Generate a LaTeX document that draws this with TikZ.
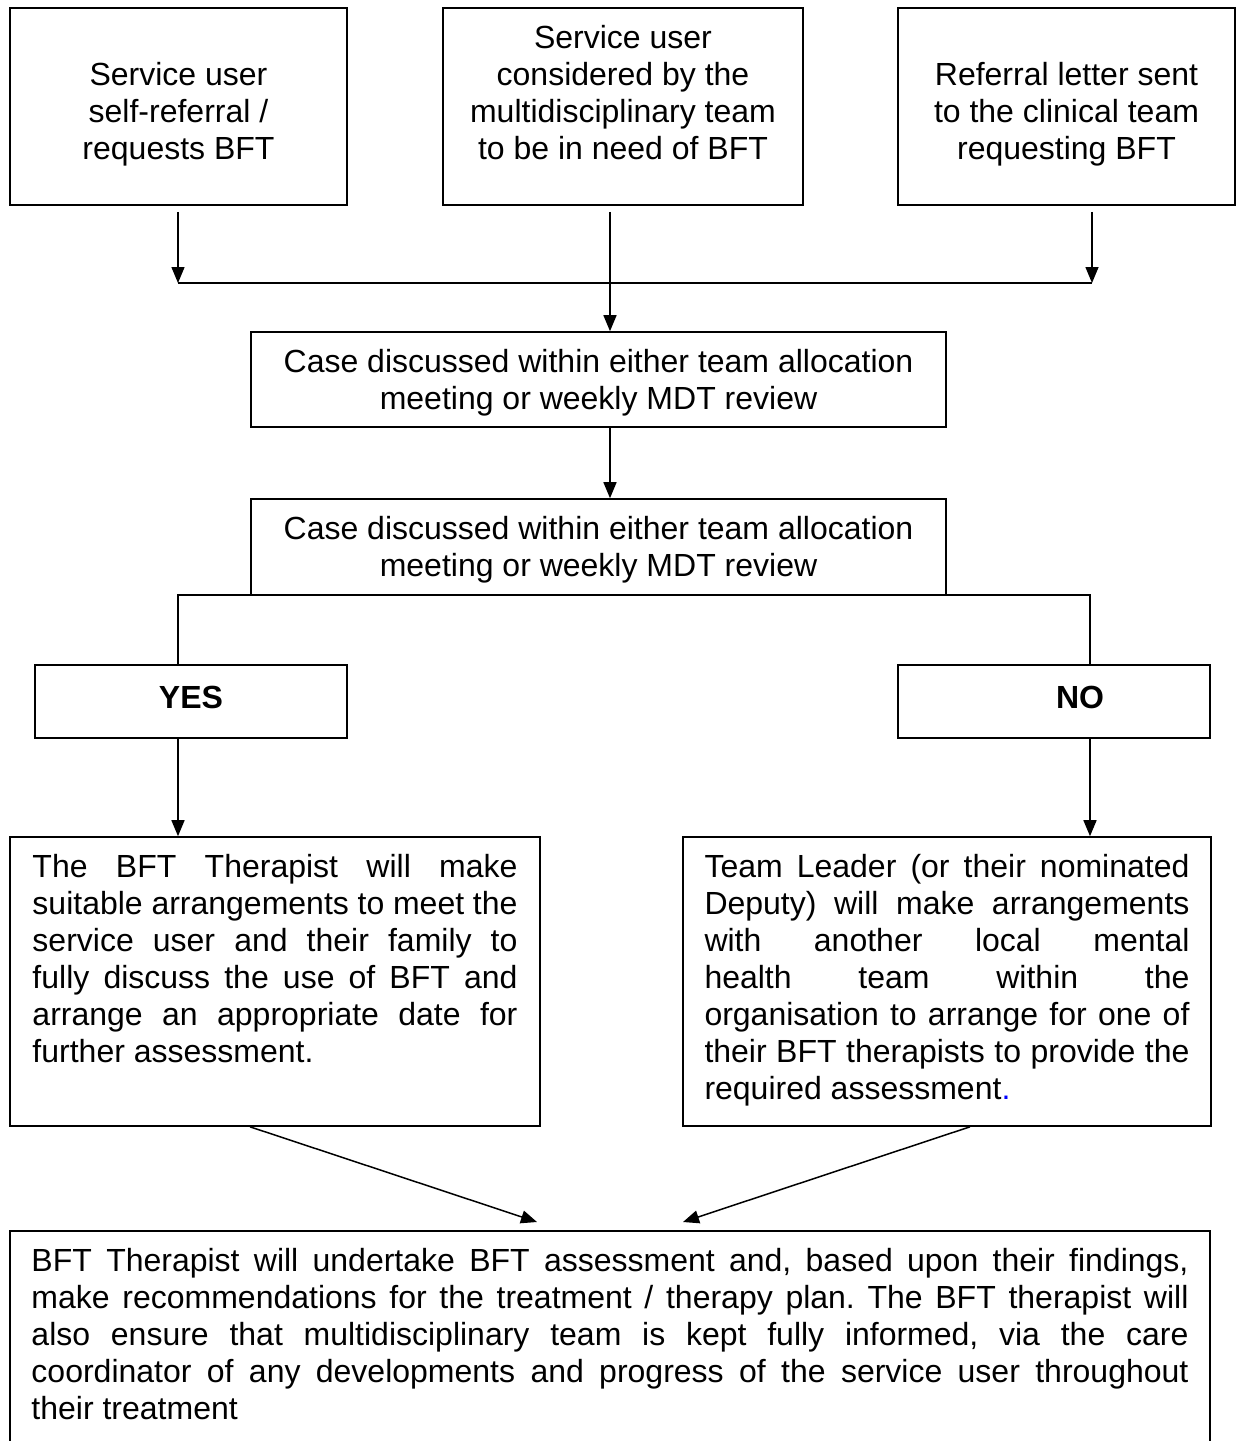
\documentclass[tikz,border=0pt]{standalone}
\usepackage{fontspec}
\setmainfont{Liberation Sans}
\usetikzlibrary{arrows.meta}
\frenchspacing
\newcommand\inbox[3]{\parbox[c][#1][t]{#2}{#3}}
\newcommand\jline[1]{\makebox[\hsize][s]{#1}}
\newcommand\firstrule{\rule{0pt}{20pt}}
\begin{document}
\begin{tikzpicture}[x=0.5pt,y=-0.5pt,
  box/.style={draw, line width=0.8pt, inner ysep=0pt, inner xsep=5pt, font=\fontsize{16pt}{18.5pt}\selectfont},
  tagbox/.style={draw, line width=0.8pt, inner sep=0pt, minimum width=156pt, minimum height=36.5pt, text height=11.5pt, text depth=5pt, font=\fontsize{16pt}{18.5pt}\selectfont\bfseries},
  arr/.style={line width=0.75pt, -{Triangle[length=8pt,width=6.5pt]}},
  ln/.style={line width=0.75pt}]
\clip (0,0) rectangle (1236,1441);
\fill[white] (0,0) rectangle (1236,1441);

% top boxes
\node[box] (b1) at (178.5,106.5) {\inbox{98.5pt}{158.5pt}{\centering\firstrule\\Service user\\self-referral /\\requests BFT}};
\node[box] (b2) at (623,106.5) {\inbox{98.5pt}{170pt}{\centering\firstrule Service user\\considered by the\\multidisciplinary team\\to be in need of BFT}};
\node[box] (b3) at (1066.5,106.5) {\inbox{98.5pt}{158.5pt}{\centering\firstrule\\Referral letter sent\\to the clinical team\\requesting BFT}};

% case boxes
\node[box] (b4) at (598.5,379.5) {\inbox{47.5pt}{337.5pt}{\centering\firstrule Case discussed within either team allocation\\meeting or weekly MDT review}};
\node[box] (b5) at (598.5,547) {\inbox{48pt}{337.5pt}{\centering\firstrule Case discussed within either team allocation\\meeting or weekly MDT review}};

% yes / no
\node[tagbox] (yes) at (191,701.5) {YES};
\node[tagbox] (no) at (1054,701.5) {\hspace*{26pt}NO};

% outcome boxes
\node[box, inner xsep=11.25pt] (yesT) at (275,981.5) {\inbox{144.5pt}{242.5pt}{%
\jline{\firstrule The BFT Therapist will make}\\
\jline{suitable arrangements to meet the}\\
\jline{service user and their family to}\\
\jline{fully discuss the use of BFT and}\\
\jline{arrange an appropriate date for}\\
further assessment.}};
\node[box, inner xsep=10.75pt] (noT) at (947,981.5) {\inbox{144.5pt}{242.5pt}{%
\jline{\firstrule Team Leader (or their nominated}\\
\jline{Deputy) will make arrangements}\\
\jline{with another local mental}\\
\jline{health team within the}\\
\jline{organisation to arrange for one of}\\
\jline{their BFT therapists to provide the}\\
required assessment\textcolor{blue}{.}}};

% final box (runs past the page bottom)
\node[box, inner xsep=10.75pt] (final) at (610,1350.5) {\inbox{119.5pt}{578.5pt}{%
\jline{\firstrule BFT Therapist will undertake BFT assessment and, based upon their findings,}\\
\jline{make recommendations for the treatment / therapy plan. The BFT therapist will}\\
\jline{also ensure that multidisciplinary team is kept fully informed, via the care}\\
\jline{coordinator of any developments and progress of the service user throughout}\\
their treatment}};

% coordinates
\coordinate (jl) at (178,283);
\coordinate (jm) at (610,283);
\coordinate (jr) at (1092,283);
\coordinate (bl) at (178,595);
\coordinate (br) at (1090,595);
\coordinate (dl) at (250,0);
\coordinate (dr) at (970,0);
\coordinate (tl) at (537,1222);
\coordinate (tr) at (683,1222);

% connectors
\draw[arr, shorten <=3pt] (b1.south -| jl) -- (jl);
\draw[arr, shorten <=3pt] (b3.south -| jr) -- (jr);
\draw[ln] (jl) -- (jr);
\draw[arr, shorten <=3pt] (b2.south -| jm) -- (b4.north -| jm);
\draw[arr] (b4.south -| jm) -- (b5.north -| jm);
\draw[ln] (yes.north -| bl) -- (bl) -- (br) -- (no.north -| br);
\draw[arr] (yes.south -| bl) -- (yesT.north -| bl);
\draw[arr] (no.south -| br) -- (noT.north -| br);
\draw[arr] (yesT.south -| dl) -- (tl);
\draw[arr] (noT.south -| dr) -- (tr);
\end{tikzpicture}
\end{document}
